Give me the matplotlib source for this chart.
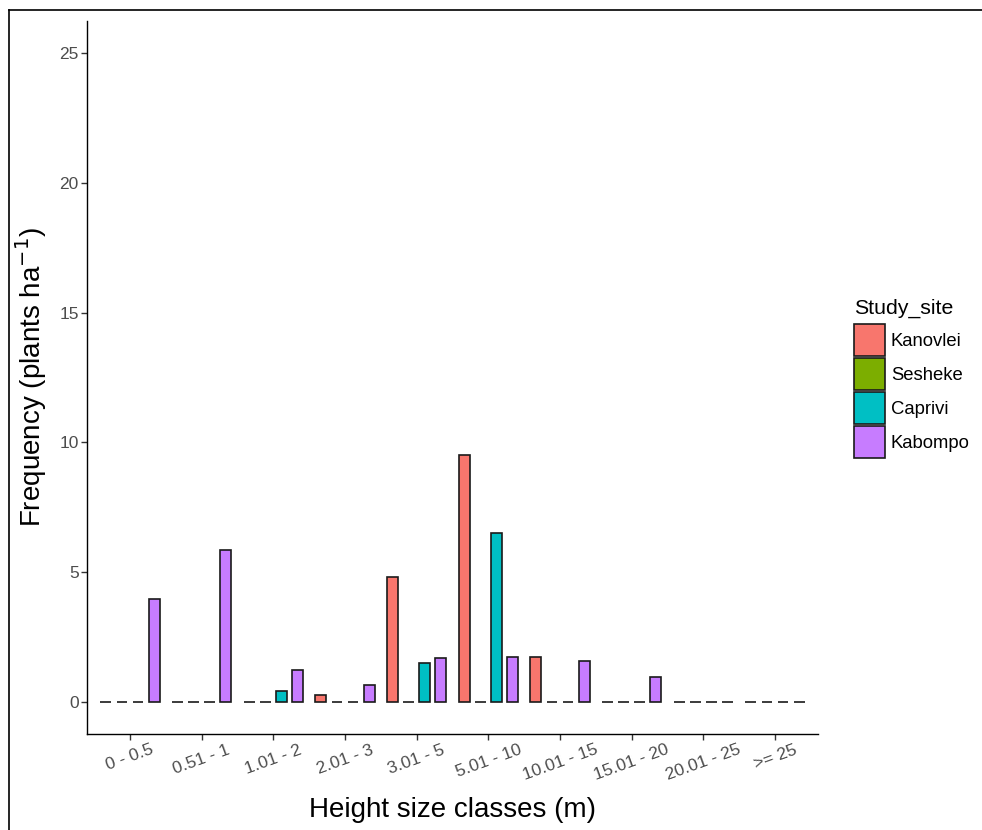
import numpy as np
import matplotlib
matplotlib.use("Agg")
import matplotlib.pyplot as plt
from matplotlib.patches import Patch
from matplotlib.lines import Line2D

plt.rcParams['font.family'] = ['Liberation Sans', 'DejaVu Sans']

# categorias de altura e frequências por sítio
categorias = ['0 - 0.5', '0.51 - 1', '1.01 - 2', '2.01 - 3', '3.01 - 5',
              '5.01 - 10', '10.01 - 15', '15.01 - 20', '20.01 - 25', '>= 25']
sitios = ['Kanovlei', 'Sesheke', 'Caprivi', 'Kabompo']
cores = ['#F8766D', '#7CAE00', '#00BFC4', '#C77CFF']

kanovlei = [0, 0, 0, 0.25, 4.8, 9.5, 1.72, 0, 0, 0]
sesheke = [0, 0, 0, 0, 0, 0, 0, 0, 0, 0]
caprivi = [0, 0, 0.4, 0, 1.5, 6.5, 0, 0, 0, 0]
kabompo = [3.95, 5.85, 1.22, 0.65, 1.67, 1.72, 1.55, 0.93, 0, 0]

valores = [kanovlei, sesheke, caprivi, kabompo]

fig = plt.figure(figsize=(9.82, 8.30), dpi=100)
ax = fig.add_axes([0.0886, 0.1157, 0.833 - 0.0886, 0.975 - 0.1157])

x = np.arange(len(categorias))
passo = 0.225
for i, (nome, cor, vals) in enumerate(zip(sitios, cores, valores)):
    ax.bar(x + (i - 1.5) * passo, vals, width=0.15, color=cor,
           edgecolor='#1a1a1a', linewidth=1.2, label=nome)

ax.set_xlim(-0.6, len(categorias) - 0.4)
ax.set_ylim(-1.25, 26.25)
ax.set_yticks([0, 5, 10, 15, 20, 25])
ax.set_xticks(x)
ax.set_xticklabels(categorias, rotation=20, ha='center')

for lado in ['top', 'right']:
    ax.spines[lado].set_visible(False)
for lado in ['left', 'bottom']:
    ax.spines[lado].set_color('black')
    ax.spines[lado].set_linewidth(1.0)

ax.tick_params(axis='both', colors='#333333', labelcolor='#4D4D4D',
               labelsize=12.5, length=4, width=1, pad=2)

ax.set_xlabel('Height size classes (m)', fontsize=20, labelpad=10)
ax.set_ylabel('Frequency (plants ha$^{-1}$)', fontsize=20, labelpad=7)

handles = [Patch(facecolor=c, edgecolor='#1a1a1a', linewidth=1.2) for c in cores]
leg = fig.legend(handles, sitios, title='Study_site', loc='upper left',
                 bbox_to_anchor=(854 / 982, 1 - 299 / 830), frameon=False,
                 fontsize=13.3, title_fontsize=15.3, handlelength=1.68,
                 handleheight=2.28, labelspacing=0.11, handletextpad=0.32,
                 borderpad=0, borderaxespad=0, alignment='left')
leg._legend_box.sep = 4.3  # espaço entre título e chaves

# moldura parcial (topo e esquerda)
fig.add_artist(Line2D([9 / 982, 1], [1 - 10 / 830, 1 - 10 / 830],
                      color='black', linewidth=1.2, transform=fig.transFigure))
fig.add_artist(Line2D([9 / 982, 9 / 982], [0, 1 - 10 / 830],
                      color='black', linewidth=1.2, transform=fig.transFigure))

fig.savefig('out.png', dpi=100)
